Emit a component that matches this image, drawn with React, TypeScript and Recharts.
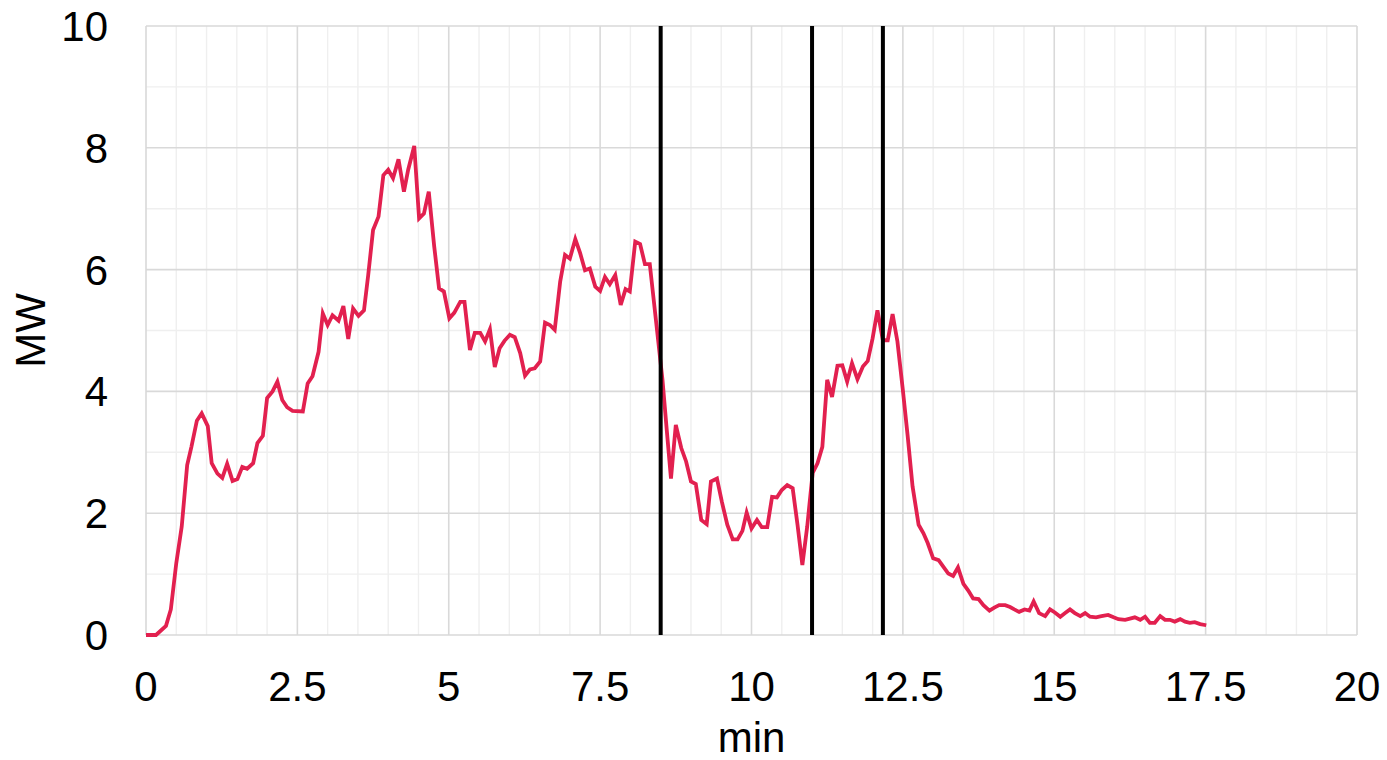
import React from 'react';
import { LineChart, Line, XAxis, YAxis, CartesianGrid, ReferenceLine, Label } from 'recharts';

const timesMin: number[] = [
  0, 0.165, 0.33, 0.41, 0.5, 0.59, 0.68, 0.75, 0.84, 0.92, 1.02, 1.085, 1.18, 1.26, 1.34, 1.43, 1.51, 1.59, 1.67, 1.77,
  1.84, 1.93, 2.0, 2.09, 2.17, 2.25, 2.33, 2.42, 2.59, 2.67, 2.75, 2.85, 2.92, 3.0, 3.08, 3.18, 3.26, 3.34, 3.42, 3.51,
  3.6, 3.67, 3.75, 3.84, 3.92, 4.0, 4.08, 4.17, 4.26, 4.33, 4.43, 4.51, 4.59, 4.67, 4.76, 4.84, 4.92, 5.01, 5.09, 5.19,
  5.26, 5.35, 5.43, 5.52, 5.6, 5.68, 5.76, 5.84, 5.92, 6.01, 6.09, 6.18, 6.26, 6.34, 6.42, 6.51, 6.59, 6.67, 6.75, 6.84,
  6.92, 7.0, 7.09, 7.17, 7.25, 7.33, 7.42, 7.5, 7.58, 7.66, 7.75, 7.84, 7.92, 7.99, 8.08, 8.16, 8.24, 8.32, 8.53, 8.6,
  8.67, 8.75, 8.84, 8.92, 9.0, 9.08, 9.17, 9.26, 9.33, 9.43, 9.51, 9.6, 9.69, 9.77, 9.85, 9.92, 10.0, 10.09, 10.17, 10.26,
  10.34, 10.42, 10.5, 10.59, 10.68, 10.76, 10.84, 10.92, 11.01, 11.09, 11.17, 11.25, 11.33, 11.42, 11.5, 11.58, 11.66, 11.75, 11.84, 11.92,
  12.0, 12.08, 12.17, 12.25, 12.33, 12.41, 12.5, 12.58, 12.66, 12.76, 12.84, 12.91, 13.0, 13.09, 13.17, 13.25, 13.33, 13.41, 13.5, 13.58,
  13.66, 13.75, 13.83, 13.93, 14.01, 14.09, 14.19, 14.27, 14.34, 14.42, 14.51, 14.59, 14.66, 14.75, 14.85, 14.93, 15.01, 15.1, 15.18, 15.26,
  15.34, 15.43, 15.51, 15.59, 15.69, 15.78, 15.89, 15.98, 16.06, 16.17, 16.25, 16.33, 16.42, 16.5, 16.58, 16.66, 16.75, 16.83, 16.91, 16.99,
  17.08, 17.16, 17.24, 17.32, 17.41, 17.51,
];

const powerMW: number[] = [
  0, 0, 0.15, 0.42, 1.18, 1.78, 2.79, 3.09, 3.52, 3.64, 3.43, 2.82, 2.65, 2.58, 2.81, 2.53, 2.56, 2.76, 2.73, 2.82,
  3.15, 3.27, 3.89, 4.0, 4.16, 3.86, 3.74, 3.68, 3.67, 4.13, 4.25, 4.65, 5.28, 5.09, 5.25, 5.16, 5.4, 4.86, 5.36, 5.24,
  5.33, 5.91, 6.65, 6.87, 7.55, 7.64, 7.5, 7.81, 7.28, 7.64, 8.03, 6.84, 6.92, 7.28, 6.38, 5.69, 5.64, 5.2, 5.29, 5.47,
  5.47, 4.68, 4.96, 4.96, 4.82, 5.02, 4.4, 4.71, 4.83, 4.93, 4.89, 4.63, 4.26, 4.36, 4.38, 4.49, 5.13, 5.09, 5.01, 5.8,
  6.24, 6.18, 6.5, 6.27, 5.99, 6.02, 5.72, 5.65, 5.88, 5.76, 5.91, 5.42, 5.68, 5.64, 6.46, 6.42, 6.09, 6.09, 4.19, 3.37,
  2.57, 3.45, 3.07, 2.85, 2.52, 2.48, 1.89, 1.82, 2.52, 2.57, 2.19, 1.81, 1.57, 1.57, 1.71, 2.01, 1.75, 1.89, 1.77, 1.77,
  2.27, 2.26, 2.38, 2.46, 2.41, 1.81, 1.15, 1.78, 2.66, 2.82, 3.09, 4.19, 3.91, 4.42, 4.43, 4.16, 4.46, 4.2, 4.41, 4.5,
  4.87, 5.33, 4.84, 4.84, 5.27, 4.82, 4.02, 3.26, 2.44, 1.81, 1.67, 1.51, 1.26, 1.23, 1.12, 1.01, 0.97, 1.11, 0.84, 0.73,
  0.6, 0.59, 0.49, 0.4, 0.45, 0.49, 0.49, 0.46, 0.42, 0.38, 0.42, 0.4, 0.55, 0.36, 0.31, 0.42, 0.37, 0.3, 0.36, 0.42,
  0.36, 0.31, 0.36, 0.3, 0.29, 0.31, 0.33, 0.29, 0.26, 0.25, 0.27, 0.29, 0.25, 0.3, 0.2, 0.2, 0.31, 0.25, 0.25, 0.22,
  0.26, 0.22, 0.2, 0.21, 0.18, 0.16,
];

const xTicks: number[] = [0, 2.5, 5, 7.5, 10, 12.5, 15, 17.5, 20];
const yTicks: number[] = [0, 2, 4, 6, 8, 10];
const xMinorGrid: number[] = [0.5, 1, 1.5, 2, 3, 3.5, 4, 4.5, 5.5, 6, 6.5, 7, 8, 8.5, 9, 9.5, 10.5, 11, 11.5, 12, 13, 13.5, 14, 14.5, 15.5, 16, 16.5, 17, 18, 18.5, 19, 19.5];
const yMinorGrid: number[] = [1, 3, 5, 7, 9];
const markerTimes: number[] = [8.5, 11, 12.17];

const data = timesMin.map((t, i) => ({ t, mw: powerMW[i] }));

const FONT = 'Liberation Sans, Arial, sans-serif';
const tickStyle = { fontFamily: FONT, fontSize: 42, fill: '#000' };

export default function App() {
  return (
    <div style={{ position: 'absolute', left: 0, top: 0, width: 1387, height: 760, background: '#fff' }}>
      <LineChart width={1387} height={760} data={data} margin={{ top: 26, right: 30, bottom: 0, left: 0 }}>
        <CartesianGrid
          stroke="#efefef"
          strokeWidth={1.4}
          verticalValues={xMinorGrid}
          horizontalValues={yMinorGrid}
        />
        <CartesianGrid
          stroke="#d9d9d9"
          strokeWidth={1.6}
          verticalValues={xTicks}
          horizontalValues={yTicks}
        />
        <XAxis
          type="number"
          dataKey="t"
          domain={[0, 20]}
          ticks={xTicks}
          axisLine={false}
          tickLine={false}
          tickSize={6}
          tickMargin={30}
          height={125}
          tick={tickStyle}
          interval={0}
        >
          <Label
            value="min"
            position="insideBottom"
            offset={8}
            style={{ fontFamily: FONT, fontSize: 42, fill: '#000' }}
          />
        </XAxis>
        <YAxis
          type="number"
          domain={[0, 10]}
          ticks={yTicks}
          axisLine={false}
          tickLine={false}
          tickSize={6}
          tickMargin={32}
          width={146}
          tick={tickStyle}
          interval={0}
        >
          <Label
            value="MW"
            angle={-90}
            position="insideLeft"
            offset={30}
            style={{ fontFamily: FONT, fontSize: 42, fill: '#000', textAnchor: 'middle' }}
          />
        </YAxis>
        <Line
          type="linear"
          dataKey="mw"
          stroke="#e2204f"
          strokeWidth={3.8}
          dot={false}
          isAnimationActive={false}
        />
        {markerTimes.map((x) => (
          <ReferenceLine key={x} x={x} stroke="#000" strokeWidth={4} />
        ))}
      </LineChart>
    </div>
  );
}
